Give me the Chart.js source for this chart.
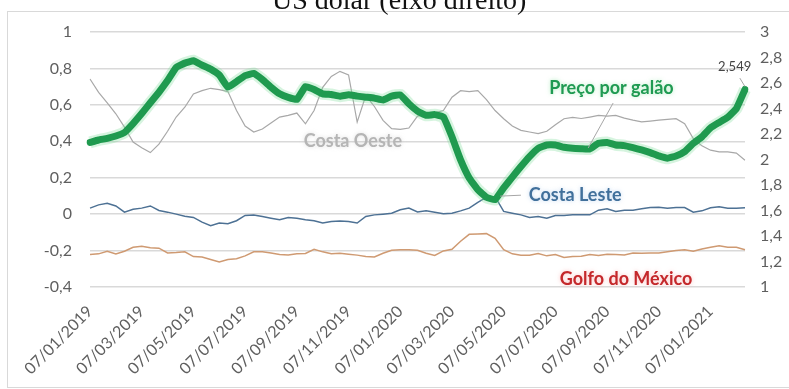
<!DOCTYPE html>
<html lang="pt">
<head>
<meta charset="utf-8">
<title>Preço por galão</title>
<script src="https://cdn.jsdelivr.net/npm/chart.js@4.4.1/dist/chart.umd.min.js"></script>
<style>
    html, body { margin: 0; padding: 0; background: #fff; overflow: hidden; }
    #wrap { position: relative; width: 789px; height: 389px; }
    #moldura { position: absolute; left: 7px; top: 11px; width: 800px; height: 375px; border: 1px solid #d9d9d9; }
    #titulo { position: absolute; left: 272px; top: -14px; font: 28px/28px 'Liberation Serif', 'Times New Roman', serif; color: #111; white-space: nowrap; }
    canvas { position: absolute; left: 0; top: 0; }
</style>
</head>
<body>
<div id="wrap">
    <div id="moldura"></div>
    <canvas id="grafico" width="789" height="389"></canvas>
    <div id="titulo">US dolar (eixo direito)</div>
</div>
<script>
// ===== DADOS =====
// Uma amostra a cada ~10 dias, de 07/01/2019 até fev/2021 (77 pontos)
const rotulosEixo = ['07/01/2019', '07/03/2019', '07/05/2019', '07/07/2019', '07/09/2019', '07/11/2019',
    '07/01/2020', '07/03/2020', '07/05/2020', '07/07/2020', '07/09/2020', '07/11/2020', '07/01/2021'];
const PONTOS_POR_ROTULO = 6;

// eixo direito (US$)
const precoGalao = [
    2.134, 2.153, 2.166, 2.184, 2.212, 2.282, 2.360, 2.445, 2.528, 2.619,
    2.722, 2.756, 2.774, 2.740, 2.709, 2.663, 2.567, 2.611, 2.658, 2.675,
    2.627, 2.567, 2.515, 2.487, 2.471, 2.572, 2.549, 2.515, 2.510, 2.497,
    2.507, 2.497, 2.489, 2.481, 2.466, 2.497, 2.507, 2.437, 2.380, 2.347,
    2.352, 2.334, 2.178, 1.997, 1.855, 1.764, 1.704, 1.685, 1.777, 1.862,
    1.945, 2.023, 2.088, 2.114, 2.114, 2.096, 2.088, 2.085, 2.083, 2.127,
    2.134, 2.114, 2.109, 2.093, 2.075, 2.054, 2.028, 2.010, 2.028, 2.062,
    2.127, 2.178, 2.248, 2.290, 2.331, 2.399, 2.549
];

// eixo esquerdo
const costaOeste = [
    0.742, 0.669, 0.611, 0.551, 0.478, 0.396, 0.364, 0.338, 0.384, 0.455,
    0.533, 0.587, 0.660, 0.678, 0.691, 0.684, 0.673, 0.569, 0.484, 0.451,
    0.467, 0.500, 0.533, 0.542, 0.555, 0.496, 0.569, 0.696, 0.756, 0.784,
    0.764, 0.505, 0.651, 0.591, 0.515, 0.469, 0.465, 0.473, 0.538, 0.545,
    0.556, 0.569, 0.642, 0.678, 0.673, 0.678, 0.629, 0.569, 0.524, 0.484,
    0.460, 0.451, 0.442, 0.455, 0.491, 0.524, 0.531, 0.525, 0.533, 0.542,
    0.538, 0.542, 0.527, 0.516, 0.507, 0.511, 0.516, 0.520, 0.524, 0.496,
    0.415, 0.375, 0.351, 0.342, 0.342, 0.335, 0.296
];

const costaLeste = [
    0.033, 0.051, 0.060, 0.045, 0.011, 0.027, 0.033, 0.045, 0.020, 0.011,
    0.000, -0.011, -0.018, -0.044, -0.064, -0.049, -0.053, -0.036, -0.007, -0.005,
    -0.013, -0.022, -0.031, -0.018, -0.022, -0.031, -0.036, -0.049, -0.040, -0.038,
    -0.040, -0.049, -0.013, -0.004, 0.000, 0.005, 0.024, 0.033, 0.012, 0.018,
    0.011, 0.002, 0.005, 0.018, 0.033, 0.065, 0.093, 0.096, 0.015, 0.005,
    -0.004, -0.018, -0.013, -0.022, -0.007, -0.007, -0.004, -0.004, -0.004, 0.022,
    0.029, 0.015, 0.022, 0.022, 0.029, 0.036, 0.038, 0.033, 0.036, 0.036,
    0.011, 0.018, 0.035, 0.040, 0.033, 0.033, 0.035
];

const golfoMexico = [
    -0.222, -0.218, -0.204, -0.218, -0.204, -0.182, -0.176, -0.185, -0.187, -0.213,
    -0.211, -0.207, -0.233, -0.235, -0.249, -0.262, -0.249, -0.245, -0.229, -0.207,
    -0.207, -0.213, -0.222, -0.224, -0.218, -0.216, -0.193, -0.207, -0.218, -0.215,
    -0.220, -0.225, -0.233, -0.235, -0.215, -0.198, -0.195, -0.195, -0.198, -0.215,
    -0.227, -0.202, -0.193, -0.149, -0.111, -0.109, -0.107, -0.133, -0.195, -0.218,
    -0.225, -0.225, -0.216, -0.229, -0.222, -0.238, -0.233, -0.231, -0.222, -0.227,
    -0.220, -0.222, -0.224, -0.213, -0.215, -0.213, -0.213, -0.207, -0.200, -0.196,
    -0.204, -0.191, -0.182, -0.173, -0.182, -0.182, -0.195
];

// rótulo só a cada 6 amostras (2 meses)
const categorias = precoGalao.map((_, i) => i % PONTOS_POR_ROTULO === 0 ? (rotulosEixo[i / PONTOS_POR_ROTULO] || '') : '');

// ===== ANOTAÇÕES (posição em índice / valor do eixo esquerdo) =====
const NOTAS = [
    { texto: 'Costa Oeste', x: 30.5, y: 0.40, cor: '#b5b5b5', fonte: 'bold 18px Lato', sombra: 'rgba(200,200,200,0.6)' },
    { texto: 'Preço por galão', x: 60.5, y: 0.692, cor: '#1f9a52', fonte: 'bold 18px Lato', sombra: 'rgba(150,230,170,0.7)' },
    { texto: 'Costa Leste', x: 56.3, y: 0.104, cor: '#41709b', fonte: 'bold 18px Lato', sombra: 'rgba(170,200,235,0.7)' },
    { texto: 'Golfo do México', x: 62.2, y: -0.357, cor: '#c4282b', fonte: 'bold 18px Lato', sombra: 'rgba(250,170,170,0.7)' },
    { texto: '2,549', x: 74.8, y: 0.808, cor: '#444', fonte: '13px Lato', sombra: null }
];
const LINHAS = [
    [60.7, 0.61, 57.8, 0.363],
    [47.6, 0.099, 50.0, 0.104],
    [75.4, 0.747, 76.0, 0.70]
];

const COR_TEXTO = '#5f5f5f';
const FONTE_EIXO = { family: 'Lato', size: 16 };
const fmtNum = v => String(Math.round(v * 10) / 10).replace('.', ',');

const notasPlugin = {
    id: 'notas',
    afterDatasetsDraw(chart) {
        const { ctx } = chart;
        const sx = chart.scales.x, sy = chart.scales.y;
        ctx.save();
        ctx.strokeStyle = '#a6a6a6';
        ctx.lineWidth = 1;
        LINHAS.forEach(([x1, y1, x2, y2]) => {
            ctx.beginPath();
            ctx.moveTo(sx.getPixelForValue(x1), sy.getPixelForValue(y1));
            ctx.lineTo(sx.getPixelForValue(x2), sy.getPixelForValue(y2));
            ctx.stroke();
        });
        ctx.textAlign = 'center';
        ctx.textBaseline = 'middle';
        NOTAS.forEach(n => {
            ctx.font = n.fonte;
            ctx.fillStyle = n.cor;
            ctx.shadowColor = n.sombra || 'transparent';
            ctx.shadowBlur = n.sombra ? 4 : 0;
            ctx.fillText(n.texto, sx.getPixelForValue(n.x), sy.getPixelForValue(n.y));
        });
        ctx.restore();
    }
};

// ===== GRÁFICO =====
new Chart(document.getElementById('grafico'), {
    type: 'line',
    data: {
        labels: categorias,
        datasets: [
            { label: 'Preço por galão', data: precoGalao, yAxisID: 'y1', borderColor: '#1f9a4f', borderWidth: 7, tension: 0.1, borderCapStyle: 'round', borderJoinStyle: 'round' },
            { label: 'brilho', data: precoGalao, yAxisID: 'y1', borderColor: 'rgba(120,220,150,0.3)', borderWidth: 12, tension: 0.1 },
            { label: 'Costa Oeste', data: costaOeste, yAxisID: 'y', borderColor: '#a8a8a8', borderWidth: 1.2 },
            { label: 'Costa Leste', data: costaLeste, yAxisID: 'y', borderColor: '#4d7194', borderWidth: 1.5 },
            { label: 'Golfo do México', data: golfoMexico, yAxisID: 'y', borderColor: '#cf9a72', borderWidth: 1.5 }
        ]
    },
    options: {
        responsive: false,
        animation: false,
        layout: { padding: { top: 32, left: 0, right: 0, bottom: 0 } },
        elements: { point: { radius: 0 }, line: { fill: false } },
        plugins: { legend: { display: false }, tooltip: { enabled: false } },
        scales: {
            x: {
                grid: { display: false },
                border: { display: false },
                ticks: { autoSkip: false, minRotation: 45, maxRotation: 45, padding: 7, color: COR_TEXTO, font: FONTE_EIXO },
                afterFit: s => { s.height = 102; }
            },
            y: {
                position: 'left', min: -0.4, max: 1,
                grid: { color: '#d9d9d9', lineWidth: 1.5, drawTicks: false },
                border: { display: false },
                ticks: { stepSize: 0.2, padding: 18, color: COR_TEXTO, font: FONTE_EIXO, callback: fmtNum },
                afterFit: s => { s.width = 90; }
            },
            y1: {
                position: 'right', min: 1, max: 3,
                grid: { display: false, drawTicks: false },
                border: { display: false },
                ticks: { stepSize: 0.2, padding: 15, color: COR_TEXTO, font: FONTE_EIXO, callback: fmtNum },
                afterFit: s => { s.width = 44; }
            }
        }
    },
    plugins: [notasPlugin]
});
</script>
</body>
</html>
